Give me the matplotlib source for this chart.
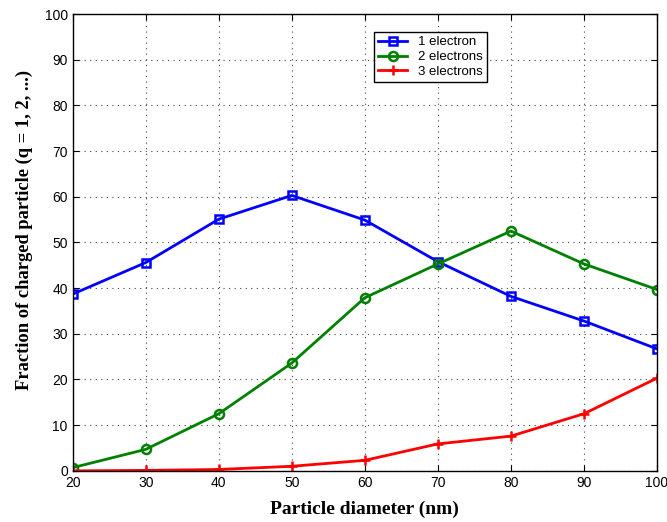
import matplotlib.pyplot as plt

# particle diameter (nm) and fraction of charged particles (%)
diameter = [20, 30, 40, 50, 60, 70, 80, 90, 100]
one_electron = [38.7, 45.6, 55.1, 60.3, 54.9, 45.8, 38.2, 32.8, 26.7]
two_electrons = [0.7, 4.7, 12.5, 23.6, 37.9, 45.3, 52.5, 45.3, 39.7]
three_electrons = [0.0, 0.1, 0.3, 1.0, 2.3, 5.9, 7.6, 12.5, 20.3]

plt.rcParams['font.family'] = ['Liberation Sans', 'DejaVu Sans']

fig = plt.figure(figsize=(6.67, 5.22), dpi=100)
ax = fig.add_axes([0.109, 0.098, 0.876, 0.875])

ax.plot(diameter, one_electron, '-s', color='#0000ff', lw=2, ms=5.5,
        mfc='none', mew=1.8, label='1 electron')
ax.plot(diameter, two_electrons, '-o', color='#008000', lw=2, ms=6.5,
        mfc='none', mew=1.8, label='2 electrons')
ax.plot(diameter, three_electrons, '-+', color='#ff0000', lw=2, ms=7,
        mew=1.8, label='3 electrons')

ax.set_xlim(20, 100)
ax.set_ylim(0, 100)
ax.set_xticks(range(20, 101, 10))
ax.set_yticks(range(0, 101, 10))
ax.tick_params(direction='in', top=True, right=True, labelsize=10, length=4)
ax.grid(True, linestyle=(0, (1, 4)), color='#444444', lw=0.8)
for s in ax.spines.values():
    s.set_linewidth(1.0)

ax.set_xlabel('Particle diameter (nm)', family='Liberation Serif',
              fontweight='bold', fontsize=14, labelpad=8)
ax.set_ylabel('Fraction of charged particle (q = 1, 2, ...)',
              family='Liberation Serif', fontweight='bold', fontsize=13.3)
ax.yaxis.set_label_coords(-0.068, 0.527)

leg = ax.legend(loc='upper left', bbox_to_anchor=(0.505, 0.975), fontsize=9.5,
                fancybox=False, edgecolor='black', framealpha=1,
                handlelength=2.2, borderpad=0.3, labelspacing=0.2)
leg.get_frame().set_linewidth(1.0)

fig.savefig('out.png', dpi=100)
